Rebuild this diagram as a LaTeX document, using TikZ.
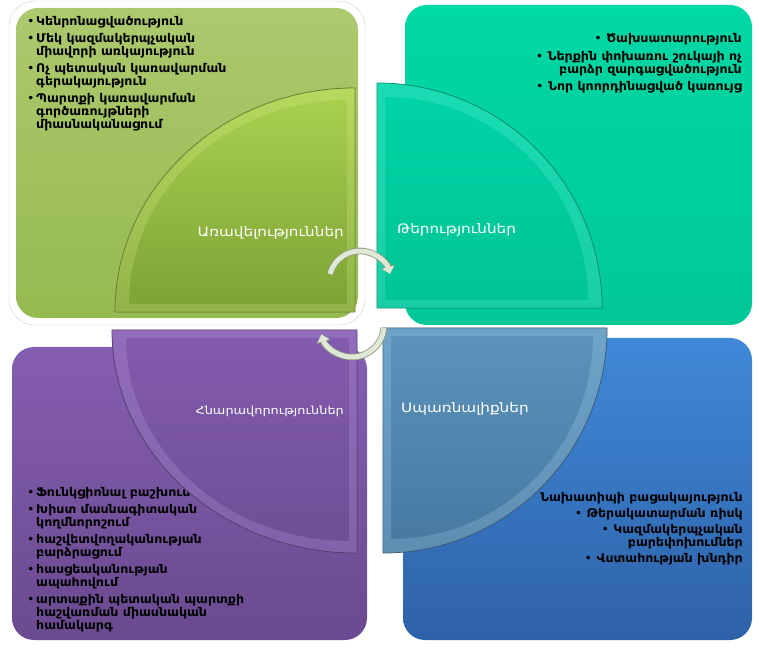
\documentclass[tikz,border=0pt]{standalone}
\usepackage{fontspec}
\setmainfont{DejaVu Sans}
\newfontfamily\listfont[FakeStretch=1.05]{DejaVu Sans}
\newfontfamily\titlefont[FakeStretch=1.17]{DejaVu Sans}
\usetikzlibrary{arrows.meta}

\definecolor{greentop}{RGB}{172,201,110}
\definecolor{greenbot}{RGB}{150,186,80}
\definecolor{greenwa}{RGB}{170,210,80}
\definecolor{greenwb}{RGB}{124,162,52}
\definecolor{greenhi}{RGB}{225,245,150}
\definecolor{tealtop}{RGB}{0,216,165}
\definecolor{tealbot}{RGB}{0,200,150}
\definecolor{tealwa}{RGB}{0,212,165}
\definecolor{tealwb}{RGB}{0,196,150}
\definecolor{tealhi}{RGB}{120,250,230}
\definecolor{purptop}{RGB}{132,94,176}
\definecolor{purpbot}{RGB}{106,74,144}
\definecolor{purpwa}{RGB}{130,92,174}
\definecolor{purpwb}{RGB}{110,78,150}
\definecolor{purphi}{RGB}{200,170,240}
\definecolor{bluetop}{RGB}{64,136,216}
\definecolor{bluebot}{RGB}{46,98,168}
\definecolor{bluewa}{RGB}{92,148,188}
\definecolor{bluewb}{RGB}{70,120,160}
\definecolor{bluehi}{RGB}{180,225,245}
\definecolor{arrowfill}{RGB}{222,232,212}
\definecolor{arrowedge}{RGB}{140,150,130}

\newcommand{\blt}{\makebox[9pt][l]{\mdseries•}}
\newcommand{\cont}{\hspace*{9pt}}

\tikzset{
  quad/.style={rounded corners=22pt, draw=none},
  wedge/.style={line width=0.8pt},
  bevel/.style={fill=#1, opacity=0.22, even odd rule},
  itemtext/.style={inner sep=0pt, font=\listfont\bfseries\fontsize{12}{13}\selectfont},
  quadname/.style={text=white, inner sep=0pt, font=\titlefont\fontsize{13}{15}\selectfont},
  cyclearrow/.style={line width=5pt, draw=arrowfill, -{Triangle[length=7pt,width=12pt]}},
  cycleedge/.style={line width=6.6pt, draw=arrowedge, -{Triangle[length=8pt,width=14pt]}},
}

\begin{document}
\begin{tikzpicture}[x=1pt,y=1pt]
\useasboundingbox (0,0) rectangle (759,648);

% four boxes
\fill[white, draw=gray!35, rounded corners=26pt] (9,323) rectangle (365,647);
\shade[quad, top color=greentop, bottom color=greenbot] (16,330) rectangle (358,640);
\shade[quad, top color=tealtop, bottom color=tealbot] (405,323) rectangle (752,643);
\shade[quad, top color=purptop, bottom color=purpbot] (12,8) rectangle (367,301);
\shade[quad, top color=bluetop, bottom color=bluebot] (403,8) rectangle (752,310);

% box texts
\node[itemtext, anchor=north west, align=left] (strengths) at (27,632)
  {\blt Կենրոնացվածություն\\[4pt]
   \blt Մեկ կազմակերպչական\\ \cont միավորի առկայություն\\[4pt]
   \blt Ոչ պետական կառավարման\\ \cont գերակայություն\\[4pt]
   \blt Պարտքի կառավարման\\ \cont գործառույթների\\ \cont միասնականացում};
\node[itemtext, anchor=north east, align=right] (weaknesses) at (742,615)
  {{\mdseries•} Ծախսատարություն\\[5pt]
   {\mdseries•} Ներքին փոխառու շուկայի ոչ\\ բարձր զարգացվածություն\\[4pt]
   {\mdseries•} Նոր կոորդինացված կառույց};
\node[itemtext, anchor=north west, align=left] (opportunities) at (27,161)
  {\blt Ֆունկցիոնալ բաշխում\\[4pt]
   \blt Խիստ մասնագիտական\\ \cont կողմնորոշում\\[4pt]
   \blt հաշվետվողականության\\ \cont բարձրացում\\[4pt]
   \blt հասցեականության\\ \cont ապահովում\\[4pt]
   \blt արտաքին պետական պարտքի\\ \cont հաշվառման միասնական\\ \cont համակարգ};
\node[itemtext, anchor=north east, align=right] (threats) at (743,156)
  {Նախատիպի բացակայություն\\[3pt]
   {\mdseries•} Թերակատարման ռիսկ\\[3pt]
   {\mdseries•} Կազմակերպչական\\ բարեփոխումներ\\[3pt]
   {\mdseries•} Վստահության խնդիր};

% quarter wedges
\shade[top color=greenwa, bottom color=greenwb, draw=greenwb!70!black, wedge]
  (355,336) -- (115,336) arc[start angle=180, end angle=90, x radius=240, y radius=224] -- cycle;
\path[bevel=greenhi] (355,336) -- (115,336) arc[start angle=180, end angle=90, x radius=240, y radius=224] -- cycle
  (347,344) -- (129,344) arc[start angle=180, end angle=90, x radius=218, y radius=204] -- cycle;
\shade[top color=tealwa, bottom color=tealwb, draw=tealwb!65!black, wedge]
  (377,340) -- (377,565) arc[start angle=90, end angle=0, radius=225] -- cycle;
\path[bevel=tealhi] (377,340) -- (377,565) arc[start angle=90, end angle=0, radius=225] -- cycle
  (385,348) -- (385,551) arc[start angle=90, end angle=0, radius=203] -- cycle;
\shade[top color=purpwa, bottom color=purpwb, draw=purpwb!65!black, wedge]
  (357,318) -- (112,318) arc[start angle=180, end angle=270, x radius=245, y radius=223] -- cycle;
\path[bevel=purphi] (357,318) -- (112,318) arc[start angle=180, end angle=270, x radius=245, y radius=223] -- cycle
  (349,310) -- (126,310) arc[start angle=180, end angle=270, x radius=223, y radius=203] -- cycle;
\shade[top color=bluewa, bottom color=bluewb, draw=bluewb!65!black, wedge]
  (383,320) -- (607,320) arc[start angle=0, end angle=-90, x radius=224, y radius=225] -- cycle;
\path[bevel=bluehi] (383,320) -- (607,320) arc[start angle=0, end angle=-90, x radius=224, y radius=225] -- cycle
  (391,312) -- (593,312) arc[start angle=0, end angle=-90, x radius=202, y radius=203] -- cycle;

% wedge titles
\node[quadname, anchor=east] (advantages) at (344,415) {Առավելություններ};
\node[quadname, anchor=west] (drawbacks) at (397,418) {Թերություններ};
\node[quadname, anchor=east, font=\titlefont\fontsize{11}{13}\selectfont] (chances) at (344,237) {Հնարավորություններ};
\node[quadname, anchor=west] (dangers) at (401,239) {Սպառնալիքներ};

% cycle arrows
\coordinate (topc) at (360,366);
\coordinate (botc) at (352,323);
\draw[cycleedge] ([shift={(165:31)}]topc) arc[start angle=165, end angle=15, radius=31];
\draw[cyclearrow] ([shift={(165:31)}]topc) arc[start angle=165, end angle=15, radius=31];
\draw[cycleedge] ([shift={(-5:32)}]botc) arc[start angle=-5, end angle=-163, radius=32];
\draw[cyclearrow] ([shift={(-5:32)}]botc) arc[start angle=-5, end angle=-163, radius=32];
\end{tikzpicture}
\end{document}
